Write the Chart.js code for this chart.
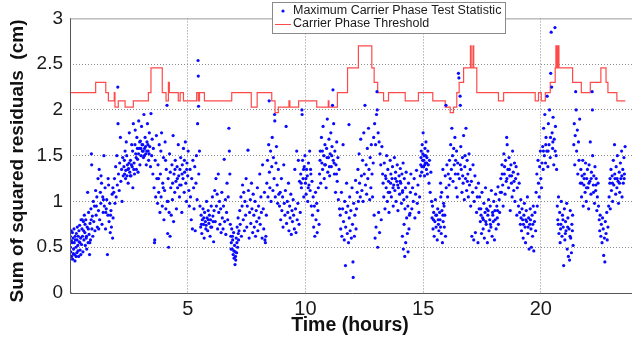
<!DOCTYPE html>
<html>
<head>
<meta charset="utf-8">
<script src="https://cdn.jsdelivr.net/npm/chart.js@4.4.0/dist/chart.umd.min.js"></script>
<style>
  html, body { margin: 0; padding: 0; background: #fff; overflow: hidden; }
  canvas { display: block; }
</style>
</head>
<body>
<canvas id="grafico" width="640" height="343"></canvas>
<script>
// ticks
const xTickValues = [5, 10, 15, 20];
const yTickValues = [0, 0.5, 1, 1.5, 2, 2.5, 3];

// limiar (degraus): instante da mudanca e novo valor
const thresholdTimes = [0, 1.09, 1.52, 1.63, 1.88, 1.91, 2.05, 2.34, 2.69, 3.33, 3.44, 3.92, 4.08, 4.18, 4.22,
  4.6, 4.68, 4.82, 5.38, 5.45, 5.5, 5.71, 6.87, 7.7, 7.95, 8.57, 8.71, 8.85, 9.3, 9.34, 9.71, 10.48,
  10.97, 11.0, 11.36, 11.79, 12.25, 12.82, 12.92, 13.07, 13.32, 13.53, 14.24, 14.8, 15.41, 15.94, 16.15,
  16.29, 16.43, 16.53, 16.72, 17.01, 17.04, 17.12, 17.15, 17.28, 18.2, 18.42, 19.76, 19.9, 20.02, 20.19,
  20.4, 20.61, 20.64, 20.67, 20.69, 20.72, 20.74, 20.77, 21.35, 21.72, 22.1, 22.55, 22.77, 22.85, 23.23, 23.59];
const thresholdValues = [2.19, 2.3, 2.19, 2.1, 2.19, 2.03, 2.1, 2.03, 2.1, 2.19, 2.46, 2.19, 2.1, 2.3, 2.19,
  2.1, 2.19, 2.1, 2.19, 2.1, 2.19, 2.1, 2.19, 2.03, 2.19, 2.1, 1.97, 2.03, 2.1, 2.03, 2.1, 2.03,
  2.1, 2.03, 2.19, 2.46, 2.7, 2.46, 2.3, 2.19, 2.1, 2.19, 2.1, 2.19, 2.1, 2.03, 1.97,
  2.03, 2.19, 2.3, 2.46, 2.7, 2.46, 2.7, 2.46, 2.19, 2.1, 2.19, 2.1, 2.19, 2.1, 2.19,
  2.3, 2.46, 2.7, 2.46, 2.7, 2.46, 2.7, 2.46, 2.3, 2.19, 2.3, 2.46, 2.3, 2.19, 2.1, 2.1];

// estatistica de teste maxima [hora, valor]
const statPoints = [
  [0,0],[0.01,0.62],[0.03,0.45],[0.05,0.68],[0.07,0.40],[0.09,0.55],[0.11,0.37],[0.13,0.60],[0.15,0.48],[0.17,0.70],
  [0.19,0.42],[0.21,0.35],[0.23,0.58],[0.25,0.50],[0.27,0.65],[0.29,0.44],[0.31,0.72],[0.33,0.52],[0.35,0.62],[0.37,0.40],
  [0.39,0.56],[0.41,0.74],[0.43,0.47],[0.45,0.60],[0.47,0.80],[0.49,0.53],
  [0.51,0.70],[0.53,0.62],[0.55,0.45],[0.57,0.78],[0.59,0.58],[0.61,0.85],[0.63,0.66],[0.65,0.52],[0.67,0.80],[0.69,0.60],
  [0.71,0.48],[0.73,0.72],[0.75,1.10],[0.77,0.55],[0.79,0.88],[0.81,0.64],[0.83,0.42],[0.85,0.76],[0.87,0.58],[0.89,0.92],
  [0.91,1.52],[0.92,1.40],[0.93,0.70],[0.95,0.84],[0.97,0.62],[0.99,1.00],
  [1.01,0.78],[1.04,0.95],[1.06,0.68],[1.09,1.12],[1.11,0.85],[1.14,1.05],[1.16,0.72],[1.19,1.25],[1.21,0.90],[1.24,1.35],
  [1.26,0.80],[1.29,1.10],[1.31,0.98],[1.34,1.20],[1.36,0.75],[1.39,1.05],[1.41,0.88],[1.44,1.50],[1.46,0.95],[1.49,1.15],
  [1.51,0.70],[1.54,0.92],[1.56,1.02],[1.59,0.42],[1.61,0.85],[1.64,1.18],[1.66,0.78],[1.69,0.98],[1.71,0.66],[1.74,0.90],
  [1.76,0.72],[1.79,1.08],[1.81,0.60],[1.83,0.82],
  [1.86,1.10],[1.89,1.25],[1.91,0.98],[1.94,1.38],[1.96,1.05],[1.99,1.50],[2.01,1.18],[2.03,2.25],[2.04,1.85],[2.06,1.30],
  [2.09,1.12],[2.11,1.42],[2.14,1.70],[2.16,1.22],[2.19,1.35],[2.21,1.00],[2.24,1.48],[2.26,1.28],
  [2.29,1.38],[2.32,1.30],[2.34,1.55],[2.37,1.34],[2.39,1.65],[2.42,1.28],[2.44,1.40],[2.47,1.20],[2.49,1.36],[2.52,1.75],
  [2.54,1.32],[2.57,1.45],[2.59,1.28],[2.62,1.62],[2.64,1.38],[2.67,1.15],[2.69,1.85],[2.72,1.42],[2.74,1.30],[2.77,1.78],
  [2.79,1.52],[2.82,1.35],[2.84,1.70],[2.87,1.46],[2.89,1.32],[2.92,1.88],[2.94,1.58],[2.97,1.40],[2.99,1.66],[3.02,1.50],
  [3.04,1.82],[3.07,1.55],
  [3.09,1.62],[3.12,1.48],[3.14,1.95],[3.17,1.58],[3.19,1.70],[3.22,1.52],[3.24,1.40],[3.27,1.65],[3.29,1.85],[3.32,1.55],
  [3.34,1.45],[3.37,1.75],[3.39,1.60],[3.42,1.38],[3.44,1.96],[3.47,1.50],[3.49,1.68],[3.52,1.30],[3.54,1.58],[3.57,1.15],
  [3.59,0.55],[3.60,0.58],[3.62,1.45],[3.64,1.05],[3.67,1.72],[3.69,1.25],
  [3.72,0.98],[3.74,1.40],[3.77,1.10],[3.79,1.62],[3.82,0.88],[3.84,1.30],[3.87,1.05],[3.89,1.75],[3.92,0.95],[3.94,1.20],
  [3.97,1.48],[3.99,0.80],[4.02,1.12],[4.04,1.65],[4.07,0.92],[4.09,1.35],[4.12,2.05],[4.13,1.00],[4.15,0.65],[4.17,1.25],
  [4.19,0.50],[4.21,0.88],[4.23,1.52],[4.25,0.62],[4.28,1.15],[4.30,0.85],[4.33,1.40],[4.35,1.02],[4.38,1.72],[4.40,0.78],
  [4.42,1.30],[4.45,1.10],[4.47,1.45],[4.50,1.22],[4.52,0.92],[4.55,1.38],[4.57,1.15],[4.60,1.62],[4.62,1.28],[4.65,1.05],
  [4.67,1.35],[4.70,1.48],[4.72,1.18],[4.75,0.88],[4.77,1.40],[4.80,1.25],[4.82,1.58],[4.85,1.10],[4.87,1.32],[4.90,1.65],
  [4.92,1.20],[4.95,1.00],[4.97,1.42],[5.00,1.28],[5.02,1.55],[5.05,1.12],[5.07,0.95],
  [5.10,1.35],[5.12,1.05],[5.15,0.80],[5.17,1.25],[5.20,0.70],[5.22,1.45],[5.25,1.15],[5.27,0.92],[5.30,1.38],[5.32,0.68],
  [5.35,1.20],[5.37,1.50],[5.40,1.02],[5.42,1.85],[5.44,2.54],[5.45,2.37],[5.46,2.04],[5.47,1.30],[5.50,1.55],
  [5.52,0.95],[5.55,0.72],[5.57,0.85],[5.60,0.65],[5.62,0.80],[5.65,0.92],[5.67,0.75],[5.70,0.60],[5.72,0.88],[5.75,0.78],
  [5.77,0.70],[5.80,1.00],[5.82,0.82],[5.85,0.68],[5.87,0.90],[5.90,0.76],[5.92,0.85],[5.95,0.62],[5.97,0.80],[6.00,0.95],
  [6.02,0.72],[6.05,1.05],[6.07,0.84],[6.10,0.56],[6.12,0.90],[6.15,1.12],[6.17,0.78],[6.20,1.25],[6.22,0.95],[6.25,1.08],
  [6.27,0.70],[6.30,1.30],[6.32,0.88],[6.35,1.00],
  [6.37,0.75],[6.40,0.92],[6.42,0.66],[6.45,1.10],[6.47,0.82],[6.50,0.70],[6.52,0.95],[6.55,1.46],[6.57,0.78],[6.60,1.02],
  [6.62,0.64],[6.65,0.88],[6.67,1.20],[6.70,0.80],[6.72,1.05],[6.75,1.80],[6.77,1.55],[6.79,1.30],
  [6.81,0.75],[6.83,0.62],[6.85,0.55],[6.87,0.70],[6.89,0.48],[6.91,0.58],[6.93,0.42],[6.95,0.66],[6.97,0.38],[6.99,0.52],
  [7.01,0.31],[7.02,0.45],[7.04,0.36],[7.06,0.60],[7.08,0.44],[7.10,0.72],[7.12,0.50],[7.14,0.82],[7.16,0.58],[7.18,0.68],
  [7.21,0.90],[7.23,0.75],[7.26,1.05],[7.28,0.62],[7.31,0.95],[7.33,1.18],[7.36,0.80],[7.38,1.10],[7.41,0.68],[7.43,1.00],
  [7.46,0.85],[7.48,1.25],[7.51,0.72],[7.53,0.95],[7.56,1.56],[7.58,1.12],[7.61,0.60],[7.63,0.88],[7.66,1.02],[7.68,0.76],
  [7.71,1.20],[7.73,0.92],[7.76,0.66],[7.78,1.08],
  [7.81,0.85],[7.83,0.72],[7.86,1.00],[7.88,0.62],[7.91,0.90],[7.93,0.78],[7.96,1.15],[7.98,0.68],[8.01,0.95],[8.03,0.82],
  [8.06,1.30],[8.08,0.75],[8.11,1.05],[8.13,0.88],[8.16,0.60],[8.18,1.40],[8.21,0.92],[8.23,0.70],[8.26,1.10],[8.28,0.58],
  [8.30,0.55],[8.32,0.62],[8.34,0.85],
  [8.36,1.20],[8.39,1.45],[8.41,1.05],[8.44,1.62],[8.46,2.10],[8.47,1.32],[8.49,1.15],[8.52,1.55],[8.54,1.00],[8.57,1.38],
  [8.59,1.70],[8.62,1.12],[8.64,1.48],[8.67,1.25],[8.69,1.95],[8.70,1.88],[8.72,1.05],[8.75,1.42],[8.77,1.60],[8.80,1.18],
  [8.82,0.98],[8.85,1.35],[8.87,1.08],
  [8.90,0.95],[8.93,1.10],[8.95,0.80],[8.98,1.25],[9.00,0.90],[9.03,1.05],[9.05,0.72],[9.08,1.40],[9.10,0.98],[9.13,0.85],
  [9.15,1.12],[9.18,1.82],[9.20,0.76],[9.23,1.00],[9.25,0.88],[9.28,1.20],[9.30,0.68],[9.33,0.95],[9.35,0.82],[9.38,1.08],
  [9.40,0.64],[9.43,0.90],[9.45,0.78],[9.48,1.02],
  [9.50,0.85],[9.53,0.70],[9.55,1.35],[9.58,0.92],[9.60,0.66],[9.63,1.55],[9.65,0.80],[9.68,0.98],[9.70,1.45],[9.73,0.75],
  [9.75,1.22],[9.78,0.88],
  [9.80,1.30],[9.83,1.15],[9.85,2.00],[9.86,1.95],[9.88,1.45],[9.90,1.25],[9.93,1.05],[9.95,1.38],[9.98,1.50],[10.00,1.20],
  [10.03,1.08],[10.05,1.35],[10.08,1.28],[10.10,1.00],[10.13,1.42],[10.15,1.18],[10.18,1.55],[10.20,1.12],[10.23,1.30],[10.25,0.95],
  [10.28,1.22],
  [10.30,0.85],[10.33,1.05],[10.35,0.72],[10.38,0.95],[10.40,0.62],[10.43,1.10],[10.45,0.80],[10.48,0.98],[10.50,0.66],[10.53,0.90],
  [10.55,1.15],[10.58,0.75],
  [10.60,1.30],[10.63,1.55],[10.65,1.20],[10.68,1.70],[10.70,1.42],[10.73,1.35],[10.75,1.82],[10.78,1.50],[10.80,1.25],[10.83,1.62],
  [10.85,1.40],[10.88,1.15],[10.90,1.58],[10.93,1.90],[10.95,1.32],[10.98,1.48],[11.00,1.68],[11.03,1.28],[11.05,1.52],[11.08,1.75],
  [11.10,1.38],[11.13,1.60],[11.15,2.05],[11.17,2.22],[11.18,1.45],[11.20,1.85],[11.23,1.30],[11.25,1.55],[11.28,1.10],[11.30,1.40],
  [11.33,1.65],[11.35,1.22],[11.38,1.48],[11.40,1.02],[11.43,1.35],[11.45,0.92],
  [11.48,0.85],[11.50,0.70],[11.53,1.10],[11.55,0.62],[11.58,0.92],[11.60,1.62],[11.62,0.78],[11.65,0.58],[11.67,1.00],[11.70,0.30],
  [11.71,0.72],[11.73,0.88],[11.75,1.20],[11.78,0.65],[11.80,0.95],[11.83,0.55],[11.85,1.84],[11.86,0.82],[11.88,1.05],[11.90,0.68],
  [11.93,0.90],[11.95,0.60],[11.98,1.15],[12.00,0.75],[12.02,0.34],[12.03,0.17],[12.05,0.98],[12.08,0.62],[12.10,0.85],[12.13,1.23],
  [12.15,0.70],[12.17,0.92],
  [12.20,1.10],[12.23,1.35],[12.25,1.00],[12.28,1.52],[12.30,1.20],[12.33,1.05],[12.35,1.68],[12.38,1.28],[12.40,1.12],[12.43,1.45],
  [12.45,1.00],[12.48,1.75],[12.50,1.30],[12.53,2.05],[12.55,1.18],[12.58,1.40],[12.60,1.08],[12.63,1.58],[12.65,1.25],[12.68,1.80],
  [12.70,1.35],[12.73,1.02],[12.75,1.48],[12.78,1.15],[12.80,1.62],[12.83,1.30],[12.85,1.05],[12.88,1.42],
  [12.90,1.70],[12.92,0.85],[12.94,1.85],[12.96,0.60],[12.98,1.62],[13.00,0.72],[13.02,1.95],[13.04,2.20],[13.05,2.00],[13.07,0.50],
  [13.09,1.75],[13.11,0.88],[13.13,1.65],[13.15,0.66],[13.17,1.52],[13.20,1.40],[13.22,0.80],[13.25,1.60],[13.28,1.30],
  [13.30,1.20],[13.33,1.05],[13.35,1.42],[13.38,0.92],[13.40,1.28],[13.43,1.15],[13.45,1.50],[13.48,1.00],[13.50,1.35],[13.53,1.22],
  [13.55,0.88],[13.58,1.10],[13.60,1.45],[13.63,1.30],[13.65,1.05],[13.68,1.25],[13.70,1.38],[13.73,0.95],[13.75,1.18],[13.78,1.48],
  [13.80,1.12],[13.83,1.32],[13.85,1.00],[13.88,1.22],[13.90,1.40],[13.93,0.90],[13.95,1.15],[13.98,1.28],[14.00,1.08],[14.03,1.36],
  [14.05,1.20],[14.08,0.98],[14.10,1.30],[14.13,1.12],[14.15,1.42],[14.18,1.02],[14.20,1.25],[14.23,0.92],[14.25,1.15],[14.28,1.32],
  [14.12,0.62],[14.16,0.48],[14.19,0.75],[14.22,0.40],[14.26,0.55],[14.30,0.82],[14.33,0.65],[14.36,0.45],[14.40,0.70],[14.44,0.87],
  [14.31,1.05],[14.35,0.95],[14.38,1.20],[14.42,0.85],[14.46,1.10],[14.48,1.30],[14.52,0.92],[14.55,1.15],[14.58,1.00],[14.62,1.25],
  [14.65,0.82],[14.68,1.08],[14.72,1.34],[14.75,0.98],[14.78,1.18],[14.82,0.88],[14.85,1.05],[14.88,1.28],
  [14.90,1.40],[14.92,1.55],[14.94,1.32],[14.96,1.62],[14.98,1.45],[15.00,1.75],[15.02,1.38],[15.04,1.50],[15.06,1.28],[15.08,1.58],
  [15.10,1.42],[15.12,1.65],[15.14,1.35],[15.16,1.48],[15.18,1.30],[15.20,1.55],[15.22,1.40],[15.25,1.20],[15.27,1.45],[15.30,1.10],
  [15.33,1.32],[15.36,1.00],
  [15.38,0.82],[15.40,0.95],[15.42,0.70],[15.45,0.88],[15.47,0.62],[15.50,0.78],[15.52,1.02],[15.55,0.72],[15.57,0.85],[15.60,0.58],
  [15.62,0.92],[15.65,0.75],[15.67,0.68],[15.70,0.88],[15.72,0.80],[15.75,1.05],[15.77,0.65],[15.80,0.90],[15.82,0.55],[15.85,0.78],
  [15.87,0.98],[15.90,0.72],[15.92,0.85],[15.95,0.62],
  [15.74,1.20],[15.79,1.10],[15.84,1.35],[15.89,0.95],[15.94,1.28],[15.97,2.05],[15.98,1.15],[16.01,1.40],[16.04,1.05],[16.07,1.30],
  [16.10,1.18],
  [16.12,1.45],[16.15,1.25],[16.17,1.62],[16.20,1.35],[16.22,1.80],[16.25,1.50],[16.27,1.22],[16.30,1.58],[16.32,1.40],[16.35,1.70],
  [16.37,1.30],[16.40,1.15],[16.42,1.55],[16.45,1.05],[16.47,1.42],[16.50,2.40],[16.52,2.35],[16.54,1.25],[16.57,2.15],[16.58,2.05],
  [16.60,1.60],[16.62,1.35],[16.65,1.10],[16.67,1.48],[16.70,1.20],[16.72,1.72],[16.75,1.02],[16.77,1.38],[16.80,1.25],[16.82,1.80],
  [16.85,1.12],[16.87,1.45],[16.90,1.30],[16.92,1.05],[16.95,1.52],[16.97,1.18],[17.00,1.35],[17.02,0.95],[17.05,1.22],[17.07,0.62],
  [17.10,1.10],[17.12,1.40],[17.15,0.58],[17.17,1.00],[17.20,1.28],[17.22,0.66],[17.25,1.15],[17.27,0.88],[17.30,1.05],[17.33,0.55],
  [17.35,1.20],[17.38,0.92],
  [17.40,1.05],[17.43,0.78],[17.45,0.92],[17.48,0.65],[17.50,1.10],[17.53,0.82],[17.55,0.70],[17.58,0.98],[17.60,0.60],[17.63,0.88],
  [17.65,1.15],[17.68,0.75],[17.70,0.92],[17.73,0.55],[17.75,0.85],[17.78,1.02],[17.80,0.68],[17.83,0.80],[17.85,0.95],[17.88,0.72],
  [17.90,1.12],[17.93,0.62],[17.95,0.88],[17.98,0.78],[18.00,1.00],[18.03,0.58],[18.05,0.90],[18.08,1.08],[18.10,0.70],[18.13,0.95],
  [18.15,0.82],[18.18,1.16],[18.20,0.75],[18.23,1.02],[18.25,0.88],[18.28,1.10],
  [18.30,1.25],[18.33,1.10],[18.35,1.40],[18.38,1.18],[18.40,0.95],[18.43,1.52],[18.45,1.30],[18.48,1.08],[18.50,1.45],[18.53,1.22],
  [18.55,1.70],[18.57,1.62],[18.60,1.35],[18.63,1.15],[18.65,1.48],[18.68,1.28],[18.70,0.90],[18.73,1.40],[18.75,1.20],[18.78,1.05],
  [18.80,1.55],[18.83,1.32],[18.85,1.12],[18.88,1.42],[18.90,1.00],[18.93,1.25],[18.95,1.38],[18.98,0.85],[19.00,1.15],[19.03,1.30],
  [19.05,0.95],[19.08,1.20],
  [19.10,0.88],[19.13,0.75],[19.15,1.02],[19.18,0.68],[19.20,0.92],[19.23,0.80],[19.25,0.60],[19.28,0.85],[19.30,0.98],[19.33,0.72],
  [19.35,0.55],[19.38,0.90],[19.40,0.78],[19.43,1.05],[19.45,0.65],[19.48,0.82],[19.50,0.48],[19.53,0.75],[19.55,0.92],[19.58,0.70],
  [19.60,0.50],[19.63,0.85],[19.65,0.62],[19.68,0.95],[19.70,0.46],[19.73,0.78],[19.75,0.88],[19.78,0.68],
  [19.80,1.10],[19.83,1.30],[19.85,0.95],[19.88,1.45],[19.90,1.20],[19.93,1.05],[19.95,1.38],[19.98,1.55],[20.00,1.25],[20.03,1.15],
  [20.05,1.42],
  [20.08,1.60],[20.10,1.35],[20.12,1.80],[20.15,1.50],[20.17,1.95],[20.20,1.42],[20.22,1.70],[20.25,1.55],[20.27,2.15],[20.30,1.38],
  [20.32,1.85],[20.35,1.62],[20.37,2.00],[20.40,1.48],[20.42,2.40],[20.44,2.85],[20.46,2.25],[20.48,1.75],[20.50,1.58],[20.52,1.92],
  [20.55,1.40],[20.57,1.68],[20.60,2.90],[20.62,1.82],[20.65,1.50],[20.67,1.35],
  [20.70,0.95],[20.72,0.80],[20.75,1.05],[20.77,0.65],[20.80,0.88],[20.82,0.55],[20.85,0.75],[20.87,1.00],[20.90,0.62],[20.92,0.85],
  [20.95,0.72],[20.97,0.30],[21.00,0.92],[21.02,0.58],[21.05,0.78],[21.07,0.68],[21.10,0.98],[21.12,0.48],[21.15,0.82],[21.17,0.40],
  [21.20,0.70],[21.22,0.36],[21.25,0.90],[21.27,0.60],[21.30,0.44],[21.32,0.75],[21.35,0.85],[21.37,0.52],
  [21.40,1.62],[21.42,1.85],[21.44,1.40],[21.46,1.72],[21.48,2.20],[21.50,2.00],[21.52,1.55],[21.55,1.78],[21.57,1.30],[21.60,1.65],
  [21.62,1.45],[21.65,1.90],
  [21.68,1.20],[21.70,1.35],[21.73,1.05],[21.75,1.28],[21.78,1.45],[21.80,0.95],[21.83,1.18],[21.85,1.30],[21.88,1.10],[21.90,1.42],
  [21.93,1.00],[21.95,1.25],[21.98,1.35],[22.00,1.15],[22.03,0.92],[22.05,1.40],[22.08,1.22],[22.10,1.65],[22.13,1.08],[22.15,1.32],
  [22.18,2.20],[22.19,2.00],[22.20,1.50],[22.23,1.18],[22.25,1.28],[22.28,0.98],[22.30,1.38],[22.33,1.12],[22.35,1.25],[22.38,0.90],
  [22.40,1.05],[22.43,1.20],[22.45,0.95],
  [22.48,0.80],[22.50,0.68],[22.52,0.85],[22.55,0.62],[22.57,0.75],[22.60,0.55],[22.62,0.82],[22.65,0.70],[22.67,0.41],[22.70,0.60],
  [22.72,0.34],[22.74,0.78],[22.77,0.65],[22.80,0.88],[22.82,0.58],[22.85,0.72],[22.88,0.95],
  [22.90,1.05],[22.93,1.20],[22.95,0.92],[22.98,1.35],[23.00,1.12],[23.03,1.28],[23.05,1.00],[23.08,1.45],[23.10,1.18],[23.13,1.62],
  [23.15,1.25],[23.18,1.08],[23.20,1.38],[23.23,1.15],[23.25,1.50],[23.28,1.22],[23.30,0.98],[23.33,1.32],[23.35,1.10],[23.38,1.42],
  [23.40,1.25],[23.43,1.55],[23.45,1.05],[23.48,1.35],[23.50,1.20],[23.53,1.48],[23.55,1.30],[23.58,1.60]
];

// pontos extras nas regioes mais densas
const statPointsDense = [
  [0.02,0.50],[0.06,0.57],[0.10,0.66],[0.14,0.43],[0.18,0.55],[0.22,0.62],[0.26,0.40],[0.30,0.58],[0.34,0.46],[0.38,0.68],
  [0.42,0.55],[0.46,0.42],[0.52,0.80],[0.58,0.68],[0.64,0.75],[0.70,0.62],[0.78,0.70],[0.84,0.55],[0.90,0.80],
  [1.12,0.95],[1.22,0.70],[1.32,1.28],[1.42,1.02],[1.52,0.88],[1.62,1.25],[1.72,0.85],[1.82,1.15],
  [2.31,1.45],[2.36,1.25],[2.41,1.50],[2.46,1.35],[2.51,1.42],[2.56,1.28],[2.61,1.40],[2.66,1.55],[2.71,1.35],[2.76,1.62],
  [2.81,1.48],[2.86,1.58],[2.91,1.52],[2.96,1.65],[3.01,1.58],[3.06,1.62],[3.11,1.55],[3.16,1.50],[3.21,1.60],[3.26,1.55],
  [3.31,1.62],[3.36,1.52],
  [3.76,1.25],[3.86,1.55],[3.96,1.15],[4.06,1.45],[4.16,1.00],[4.26,1.32],[4.36,1.20],[4.46,1.35],[4.56,1.25],[4.66,1.18],
  [4.76,1.30],[4.86,1.45],[4.96,1.35],
  [5.58,0.75],[5.68,0.82],[5.78,0.74],[5.88,0.80],[5.98,0.72],[6.08,0.78],
  [6.84,0.48],[6.90,0.62],[6.96,0.46],[7.03,0.40],[7.09,0.55],[7.15,0.65],
  [9.82,1.20],[9.92,1.35],[10.02,1.25],[10.12,1.15],[10.22,1.35],[10.62,1.45],[10.72,1.55],[10.82,1.40],[10.92,1.48],[11.02,1.38],
  [11.12,1.50],[11.22,1.42],[11.32,1.30],
  [13.42,1.25],[13.52,1.10],[13.62,1.20],[13.72,1.15],[13.82,1.25],[13.92,1.18],[14.02,1.22],[14.12,1.10],
  [14.91,1.48],[14.95,1.38],[14.99,1.52],[15.03,1.45],[15.07,1.40],[15.11,1.50],[15.15,1.42],
  [15.44,0.80],[15.54,0.85],[15.64,0.80],[15.74,0.72],[15.84,0.85],
  [16.38,1.45],[16.48,1.30],[16.58,1.40],[16.68,1.28],[16.78,1.50],[16.88,1.22],
  [17.46,0.85],[17.56,0.80],[17.66,0.78],[17.76,0.90],[17.86,0.75],[17.96,0.85],[18.06,0.80],[18.16,0.90],
  [18.36,1.30],[18.46,1.38],[18.56,1.25],[18.66,1.35],[18.76,1.28],[18.86,1.22],
  [19.16,0.82],[19.26,0.75],[19.36,0.80],[19.46,0.72],[19.56,0.80],[19.66,0.75],
  [20.11,1.55],[20.21,1.62],[20.31,1.55],[20.41,1.70],[20.51,1.65],[20.61,1.55],
  [20.74,0.75],[20.84,0.70],[20.94,0.80],[21.04,0.65],[21.14,0.72],[21.24,0.62],[21.34,0.68],
  [21.74,1.20],[21.84,1.25],[21.94,1.15],[22.04,1.20],[22.14,1.25],[22.24,1.10],[22.34,1.18],
  [22.94,1.25],[23.04,1.20],[23.14,1.30],[23.24,1.25],[23.34,1.20],[23.44,1.28],[23.54,1.25]
];

const legendLabels = ["Maximum Carrier Phase Test Statistic", "Carrier Phase Threshold"];
const yTitle = "Sum of squared residuals  (cm)";
const xTitle = "Time (hours)";

const corPontos = "#0a0aff";
const corLimiar = "#ff4a4a";
const fonte = "'Liberation Sans', Arial, sans-serif";

// moldura, legenda e titulos desenhados por cima
const molduraPlugin = {
  id: "moldura",
  afterDraw(chart) {
    const ctx = chart.ctx;
    const a = chart.chartArea;
    ctx.save();
    // borda superior cinza
    ctx.strokeStyle = "#9a9a9a";
    ctx.lineWidth = 1;
    ctx.beginPath();
    ctx.moveTo(a.left, a.top + 0.5);
    ctx.lineTo(a.right, a.top + 0.5);
    ctx.stroke();
    // eixos esquerdo e inferior
    ctx.strokeStyle = "#555";
    ctx.beginPath();
    ctx.moveTo(a.left + 0.5, a.top);
    ctx.lineTo(a.left + 0.5, a.bottom + 0.5);
    ctx.lineTo(a.right, a.bottom + 0.5);
    ctx.stroke();

    // legenda
    ctx.fillStyle = "#fff";
    ctx.fillRect(272.5, 2.5, 233, 31);
    ctx.strokeStyle = "#8a8a8a";
    ctx.strokeRect(272.5, 2.5, 233, 31);
    ctx.fillStyle = corPontos;
    ctx.beginPath();
    ctx.arc(283, 11, 1.6, 0, Math.PI * 2);
    ctx.fill();
    ctx.strokeStyle = corLimiar;
    ctx.beginPath();
    ctx.moveTo(275, 24.5);
    ctx.lineTo(291, 24.5);
    ctx.stroke();
    ctx.fillStyle = "#1a1a1a";
    ctx.font = "12.5px " + fonte;
    ctx.textBaseline = "middle";
    ctx.textAlign = "left";
    ctx.fillText(legendLabels[0], 293, 11);
    ctx.fillText(legendLabels[1], 293, 24);

    // titulos
    ctx.fillStyle = "#111";
    ctx.font = "bold 19.5px " + fonte;
    ctx.textAlign = "center";
    ctx.fillText(xTitle, 350, 326);
    ctx.translate(18, 161);
    ctx.rotate(-Math.PI / 2);
    ctx.font = "bold 19px " + fonte;
    ctx.fillText(yTitle, 0, 0);
    ctx.restore();
  }
};

new Chart(document.getElementById("grafico"), {
  data: {
    datasets: [
      {
        type: "scatter",
        label: legendLabels[0],
        data: statPoints.concat(statPointsDense).map((p) => ({ x: p[0], y: p[1] })),
        pointRadius: 1.6,
        pointBorderWidth: 0,
        pointBackgroundColor: corPontos,
        order: 0,
      },
      {
        type: "line",
        label: legendLabels[1],
        data: thresholdTimes.map((t, i) => ({ x: t, y: thresholdValues[i] })),
        stepped: "before",
        borderColor: corLimiar,
        borderWidth: 1.2,
        pointRadius: 0,
        fill: false,
        order: 1,
      },
    ],
  },
  options: {
    responsive: false,
    animation: false,
    devicePixelRatio: 1,
    layout: { padding: { top: 12.5, right: 5, left: 0, bottom: 0 } },
    plugins: { legend: { display: false }, tooltip: { enabled: false } },
    scales: {
      x: {
        type: "linear",
        min: 0,
        max: 24,
        afterBuildTicks: (s) => { s.ticks = xTickValues.map((v) => ({ value: v })); },
        afterFit: (s) => { s.height = 50; },
        ticks: { font: { family: fonte, size: 20 }, color: "#1a1a1a", padding: 4, maxRotation: 0, autoSkip: false },
        grid: { color: "#8a8a8a", lineWidth: 1, drawTicks: false },
        border: { display: false, dash: [1, 2] },
      },
      y: {
        type: "linear",
        min: 0,
        max: 3,
        afterBuildTicks: (s) => { s.ticks = yTickValues.map((v) => ({ value: v })); },
        afterFit: (s) => { s.width = 70; },
        ticks: { font: { family: fonte, size: 19 }, color: "#1a1a1a", padding: 7, callback: (v) => String(v) },
        grid: {
          color: (c) => (c.tick && (c.tick.value === 0 || c.tick.value === 3) ? "rgba(0,0,0,0)" : "#8a8a8a"),
          lineWidth: 1,
          drawTicks: false,
        },
        border: { display: false, dash: [1, 2] },
      },
    },
  },
  plugins: [molduraPlugin],
});
</script>
</body>
</html>
